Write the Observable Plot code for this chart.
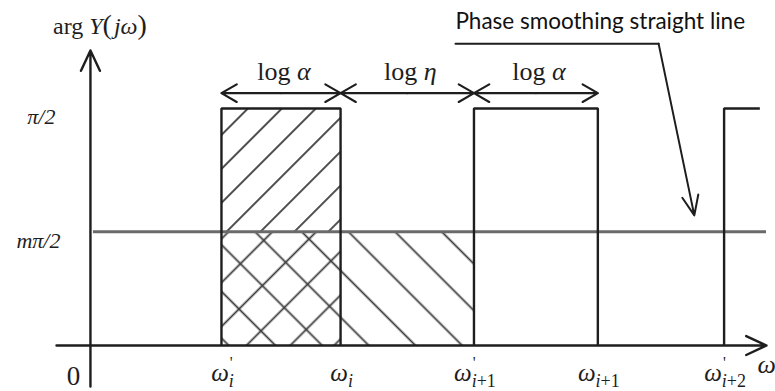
<!DOCTYPE html>
<html>
<head>
<meta charset="utf-8">
<script src="https://cdn.jsdelivr.net/npm/d3@7"></script>
<script src="https://cdn.jsdelivr.net/npm/@observablehq/plot@0.6"></script>
<style>
  body { margin: 0; background: #fff; }
  svg { display: block; }
</style>
</head>
<body>
<div id="chart"></div>
<script>
// Frequency marks on the logarithmic ω axis (one unit = log α)
const omegaTicks = [1.1, 2.1, 3.22, 4.26, 5.32];
const omegaSubs = ["i", "i", "i+1", "i+1", "i+2"];
const omegaPrimed = [true, false, true, false, true];

// Phase levels in units of π/2
const phaseTop = 1;
const phaseMean = 0.48; // the smoothed level mπ/2

// Rectangular phase pulses: start and end frequency
const pulseStarts = [1.1, 3.22, 5.32];
const pulseEnds = [2.1, 4.26, 5.62];

// Dimension spans drawn above the pulses
const spanFrom = [1.1, 2.1, 3.22];
const spanTo = [2.1, 3.22, 4.26];
const spanVar = ["α", "η", "α"];
const spanLevel = 1.065;

// Callout pointing at the smoothing line
const calloutText = "Phase smoothing straight line";
const calloutTextX = 4.28;
const calloutX = [3.065, 4.77, 5.07];
const calloutY = [1.274, 1.274, 0.549];

// Axis extents
const xMin = -0.285, xMax = 5.676;
const yMin = -0.173, yMax = 1.245;

const ink = "#1e1e1e";
const serif = "'Liberation Serif', 'DejaVu Serif', serif";

const pulses = pulseStarts.map((s, i) => ({s, e: pulseEnds[i], i}));
const pulsePoints = pulses.flatMap(p =>
  p.i < pulses.length - 1
    ? [{x: p.s, y: 0, z: p.i}, {x: p.s, y: phaseTop, z: p.i}, {x: p.e, y: phaseTop, z: p.i}, {x: p.e, y: 0, z: p.i}]
    : [{x: p.s, y: 0, z: p.i}, {x: p.s, y: phaseTop, z: p.i}, {x: p.e, y: phaseTop, z: p.i}]
);

const spans = spanFrom.map((f, i) => ({from: f, to: spanTo[i], mid: (f + spanTo[i]) / 2, v: spanVar[i]}));
const ticks = omegaTicks.map((x, i) => ({x, sub: omegaSubs[i], primed: omegaPrimed[i]}));

// Hatched regions: rising lines above the mean level, cross-hatch below it, falling lines up to the next pulse
const first = pulses[0], second = pulses[1];
const riseUpper = [{x1: first.s, x2: first.e, y1: phaseMean, y2: phaseTop}];
const riseLower = [{x1: first.s, x2: first.e, y1: 0, y2: phaseMean}];
const fallLower = [{x1: first.s, x2: second.s, y1: 0, y2: phaseMean}];

const callout = calloutX.map((x, i) => ({x, y: calloutY[i]}));

const svg = Plot.plot({
  width: 775,
  height: 391,
  marginLeft: 56,
  marginRight: 9,
  marginTop: 50,
  marginBottom: 5,
  x: {domain: [xMin, xMax], axis: null},
  y: {domain: [yMin, yMax], axis: null},
  marks: [
    Plot.rect(riseUpper, {x1: "x1", x2: "x2", y1: "y1", y2: "y2", fill: "url(#riseFine)"}),
    Plot.rect(riseLower, {x1: "x1", x2: "x2", y1: "y1", y2: "y2", fill: "url(#riseWide)"}),
    Plot.rect(fallLower, {x1: "x1", x2: "x2", y1: "y1", y2: "y2", fill: "url(#fallWide)"}),

    // smoothed phase level
    Plot.ruleY([phaseMean], {x1: 0.025, x2: xMax, stroke: "#6a6a6a", strokeWidth: 3}),

    // pulses
    Plot.line(pulsePoints, {x: "x", y: "y", z: "z", stroke: ink, strokeWidth: 2.4, strokeLinejoin: "miter", strokeLinecap: "butt"}),

    // axes
    Plot.arrow([{}], {x1: () => xMin, x2: () => xMax, y1: () => 0, y2: () => 0, stroke: ink, strokeWidth: 2.4, headLength: 14, headAngle: 50}),
    Plot.arrow([{}], {x1: () => 0, x2: () => 0, y1: () => yMin, y2: () => yMax, stroke: ink, strokeWidth: 2.4, headLength: 14, headAngle: 50}),

    // double-headed dimension arrows
    Plot.arrow(spans, {x1: "mid", x2: "from", y1: () => spanLevel, y2: () => spanLevel, stroke: ink, strokeWidth: 2.2, headLength: 12, headAngle: 60}),
    Plot.arrow(spans, {x1: "mid", x2: "to", y1: () => spanLevel, y2: () => spanLevel, stroke: ink, strokeWidth: 2.2, headLength: 12, headAngle: 60}),
    Plot.text(spans, {x: "mid", y: () => spanLevel, text: d => "log " + d.v, dy: -21, dx: 3, fontSize: 26, fontFamily: serif, fill: ink, ariaDescription: "span-labels"}),

    // callout
    Plot.line(callout.slice(0, 2), {x: "x", y: "y", stroke: ink, strokeWidth: 2}),
    Plot.arrow([callout], {x1: d => d[1].x, y1: d => d[1].y, x2: d => d[2].x, y2: d => d[2].y, stroke: ink, strokeWidth: 2, headLength: 16, headAngle: 45}),
    Plot.text([calloutText], {x: () => calloutTextX, y: () => calloutY[0], dy: -22, text: d => d, fontSize: 22.5, fontFamily: "Lato, 'Open Sans', sans-serif", fill: "#111", textAnchor: "middle"}),

    // axis labels
    Plot.text(["arg Y(jω)"], {x: () => 0.08, y: () => yMax, dy: -24, text: d => d, fontSize: 24, fontFamily: serif, fill: ink, ariaDescription: "y-title"}),
    Plot.text(["ω"], {x: () => xMax, y: () => 0, dx: -9, dy: 19, text: d => d, textAnchor: "start", fontSize: 26, fontStyle: "italic", fontFamily: serif, fill: ink}),
    Plot.text(["0"], {x: () => 0, y: () => 0, dx: -17, dy: 31, text: d => d, fontSize: 27, fontFamily: serif, fill: ink}),
    Plot.text(["π/2"], {x: () => 0, y: () => phaseTop, dx: -35, dy: 8, text: d => d, textAnchor: "end", fontSize: 22, fontStyle: "italic", fontFamily: serif, fill: ink}),
    Plot.text(["mπ/2"], {x: () => 0, y: () => phaseMean, dx: -30, dy: 9, text: d => d, textAnchor: "end", fontSize: 22, fontStyle: "italic", fontFamily: serif, fill: ink}),

    // ω tick labels
    Plot.text(ticks, {x: "x", y: () => 0, dy: 27, dx: 1, text: d => "ω" + d.sub, fontSize: 25, fontFamily: serif, fill: ink, ariaDescription: "omega-labels"})
  ]
});

// hatch patterns
const defs = d3.select(svg).insert("defs", ":first-child");
function hatch(id, size, angle) {
  defs.append("pattern")
    .attr("id", id)
    .attr("patternUnits", "userSpaceOnUse")
    .attr("width", size)
    .attr("height", size)
    .attr("patternTransform", `rotate(${angle})`)
    .append("line")
    .attr("x1", size / 2).attr("x2", size / 2)
    .attr("y1", -1).attr("y2", size + 1)
    .attr("stroke", "#3c3c3c")
    .attr("stroke-width", 1.8);
}
hatch("riseFine", 24, 45);
hatch("riseWide", 31, 45);
hatch("fallWide", 33, -45);

// mixed upright / italic math labels
function rich(label, specs) {
  d3.select(svg).selectAll(`g[aria-description="${label}"] text`).each(function (_, i) {
    const t = d3.select(this);
    t.text(null);
    for (const s of specs[i]) {
      const ts = t.append("tspan").text(s.t);
      if (s.it) ts.attr("font-style", "italic");
      if (s.size) ts.attr("font-size", s.size);
      if (s.dx) ts.attr("dx", s.dx);
      if (s.dy) ts.attr("dy", s.dy);
    }
  });
}

rich("span-labels", spans.map(d => [{t: "log "}, {t: d.v, it: true}]));
rich("y-title", [[
  {t: "arg "}, {t: "Y", it: true}, {t: "(", size: 28}, {t: "j", it: true, dx: 2}, {t: "ω", it: true}, {t: ")", size: 28}
]]);
rich("omega-labels", ticks.map(d => {
  const parts = [{t: "ω", it: true}];
  const subDy = 6;
  const subSize = 18;
  if (d.primed) {
    parts.push({t: "'", size: 16, dy: -13, dx: 1});
    parts.push({t: "i", it: true, size: subSize, dx: -4, dy: 13 + subDy});
  } else {
    parts.push({t: "i", it: true, size: subSize, dy: subDy});
  }
  const rest = d.sub.slice(1);
  if (rest) parts.push({t: rest, size: subSize});
  return parts;
}));

document.getElementById("chart").appendChild(svg);
</script>
</body>
</html>
